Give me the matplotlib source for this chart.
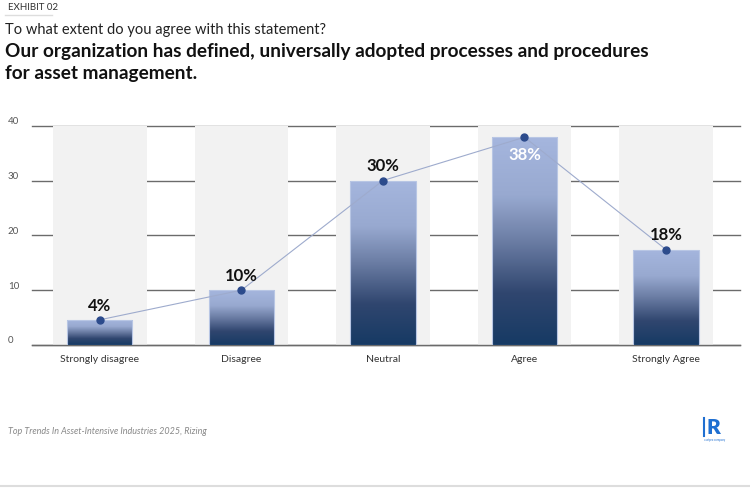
import numpy as np
import matplotlib
matplotlib.use("Agg")
from matplotlib import pyplot as plt
from matplotlib.colors import LinearSegmentedColormap
from matplotlib.transforms import blended_transform_factory

plt.rcParams['font.family'] = ['Lato', 'DejaVu Sans']

categories = ["Strongly disagree", "Disagree", "Neutral", "Agree", "Strongly Agree"]
values = [4.6, 10.0, 30.0, 37.9, 17.4]
labels = ["4%", "10%", "30%", "38%", "18%"]
yticks = [0, 10, 20, 30, 40]

fig = plt.figure(figsize=(7.5, 4.88), dpi=100)
ax = fig.add_axes([32/750, (488-345)/488, 708/750, 219.3/488])

x = np.arange(len(categories))
bw = 0.46
bgw = 0.66

# gridlines first, grey columns over them
for t in yticks:
    ax.axhline(t, color="#6b6b6b", lw=1.0, zorder=1, clip_on=False)
ax.bar(x, [40]*len(x), width=bgw, color="#f2f2f2", zorder=2)
ax.axhline(0, color="#6b6b6b", lw=1.0, zorder=3, clip_on=False)

cmap = LinearSegmentedColormap.from_list(
    "bars", [(0, "#163a64"), (0.25, "#30466f"), (0.5, "#6b7da4"),
             (0.72, "#98a9d0"), (1, "#a5b6de")])
grad = np.linspace(0, 1, 256).reshape(-1, 1)
bars = ax.bar(x, values, width=bw, color="none", edgecolor="#b8c6e4", lw=0.8, zorder=3.5)
for b in bars:
    x0 = b.get_x()
    h = b.get_height()
    im = ax.imshow(grad, cmap=cmap, origin="lower", aspect="auto",
                   extent=[x0, x0 + b.get_width(), 0, h], zorder=3)
    im.set_clip_path(b)

ax.plot(x, values, color="#9eabcd", lw=0.8, zorder=4)
ax.plot(x, values, "o", color="#2c4b8c", ms=5, zorder=5)

for i, (v, lab) in enumerate(zip(values, labels)):
    if i == 3:
        ax.text(i, v - 3.3, lab, ha="center", va="center", fontsize=12,
                fontweight="bold", color="white", zorder=6)
    else:
        ax.text(i, v + 2.6, lab, ha="center", va="center", fontsize=12,
                fontweight="bold", color="#111111", zorder=6)

ax.set_xlim(-0.48, 4.523)
ax.set_ylim(0, 40)
for s in ax.spines.values():
    s.set_visible(False)
ax.set_xticks(x)
ax.set_xticklabels(categories, fontsize=7.5, color="#333333")
ax.tick_params(axis="x", length=0, pad=7)
ax.set_yticks([])
tr = blended_transform_factory(fig.transFigure, ax.transData)
for t in yticks:
    ax.text(8/750, t + 0.75, str(t), ha="left", va="center", fontsize=7,
            color="#555555", transform=tr)

# header
fig.text(8/750, 1 - 8/488, "EXHIBIT 02", fontsize=7, color="#333333", va="center")
fig.add_artist(plt.Line2D([5/750, 52/750], [1 - 15/488, 1 - 15/488], color="#dddddd", lw=1))
fig.text(5/750, 1 - 30/488, "To what extent do you agree with this statement?",
         fontsize=10.5, color="#222222", va="center")
fig.text(5/750, 1 - 51/488, "Our organization has defined, universally adopted processes and procedures",
         fontsize=13.7, fontweight="bold", color="#111111", va="center")
fig.text(5/750, 1 - 73/488, "for asset management.",
         fontsize=13.7, fontweight="bold", color="#111111", va="center")

# footer
fig.text(8/750, 1 - 431/488, "Top Trends In Asset-Intensive Industries 2025, Rizing",
         fontsize=6.5, style="italic", color="#888888", va="center")
fig.text(707/750, 1 - 427/488, "R", fontsize=15, fontweight="heavy", color="#1f6fd1",
         ha="left", va="center")
fig.add_artist(plt.Line2D([704/750, 704/750], [1 - 418/488, 1 - 436/488], color="#1f6fd1", lw=1.5))
fig.text(715/750, 1 - 440/488, "a wipro company", fontsize=2, color="#1f6fd1", ha="center", va="center")
fig.add_artist(plt.Line2D([0, 1], [1 - 486/488, 1 - 486/488], color="#dddddd", lw=1.5))

fig.savefig("out.png", dpi=100)
